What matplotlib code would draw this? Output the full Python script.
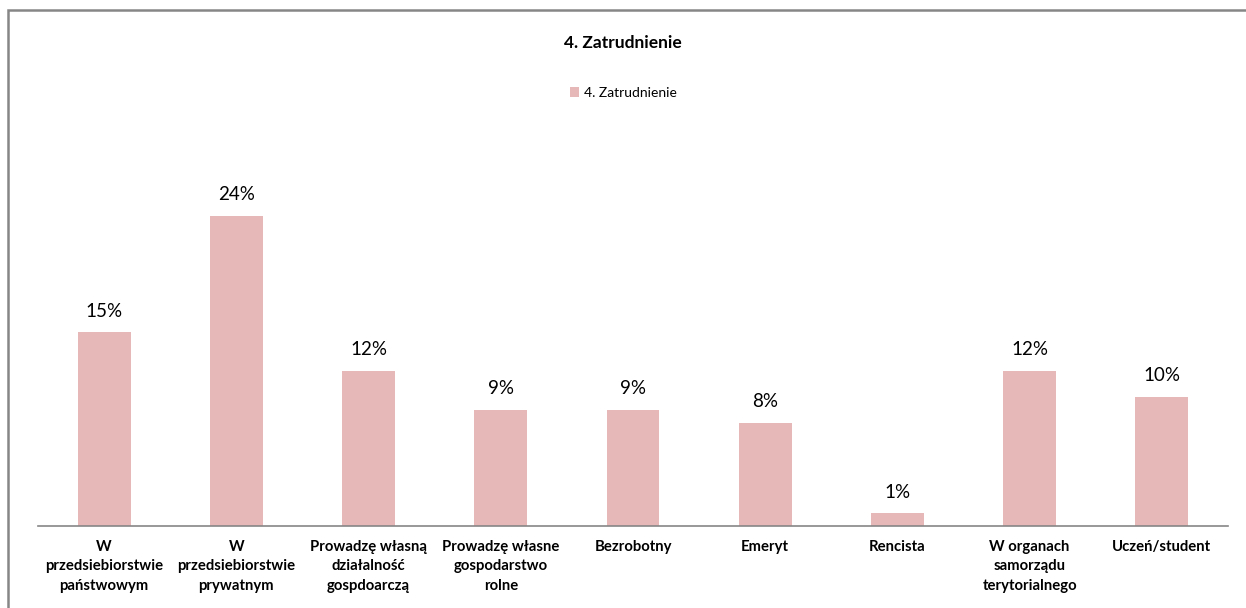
import matplotlib.pyplot as plt
from matplotlib.patches import Rectangle

categories = ['W\nprzedsiebiorstwie\npaństwowym', 'W\nprzedsiebiorstwie\nprywatnym',
              'Prowadzę własną\ndziałalność\ngospdoarczą', 'Prowadzę własne\ngospodarstwo\nrolne',
              'Bezrobotny', 'Emeryt', 'Rencista', 'W organach\nsamorządu\nterytorialnego',
              'Uczeń/student']
values = [0.15, 0.24, 0.12, 0.09, 0.09, 0.08, 0.01, 0.12, 0.10]
labels = ['15%', '24%', '12%', '9%', '9%', '8%', '1%', '12%', '10%']
series_name = '4. Zatrudnienie'

plt.rcParams['font.family'] = ['Lato', 'DejaVu Sans']

fig = plt.figure(figsize=(12.46, 6.08), dpi=100)
ax = fig.add_axes([38 / 1246, 1 - 526 / 608, 1190 / 1246, (526 - 138.4) / 608])

x = range(len(categories))
bars = ax.bar(x, values, width=0.4, color='#E6B9B8', label=series_name)
for b, lab in zip(bars, labels):
    ax.annotate(lab, (b.get_x() + b.get_width() / 2, b.get_height()),
                xytext=(0, 9), textcoords='offset points', ha='center', va='bottom',
                fontsize=13.5)

ax.set_xlim(-0.5, len(categories) - 0.5)
ax.set_ylim(0, 0.30)
ax.set_xticks(list(x))
ax.set_xticklabels(categories, fontsize=10.7, fontweight='bold', linespacing=1.5)
ax.tick_params(axis='x', length=0, pad=10)
ax.set_yticks([])
for s in ['top', 'right', 'left']:
    ax.spines[s].set_visible(False)
ax.spines['bottom'].set_color('#868686')
ax.spines['bottom'].set_linewidth(1.2)

fig.text(0.5, 1 - 43 / 608, series_name, ha='center', va='center', fontsize=12.5,
         fontweight='bold')
leg = fig.legend(loc='center', bbox_to_anchor=(0.5, 1 - 93 / 608), frameon=False,
                 fontsize=10, handlelength=0.7, handleheight=0.7, handletextpad=0.3)

fig.patches.append(Rectangle((8 / 1246, -0.1), 1.2, 1 - 10 / 608 + 0.1,
                             transform=fig.transFigure, fill=False,
                             edgecolor='#868686', linewidth=1.8))

fig.savefig('out.png', dpi=100)
